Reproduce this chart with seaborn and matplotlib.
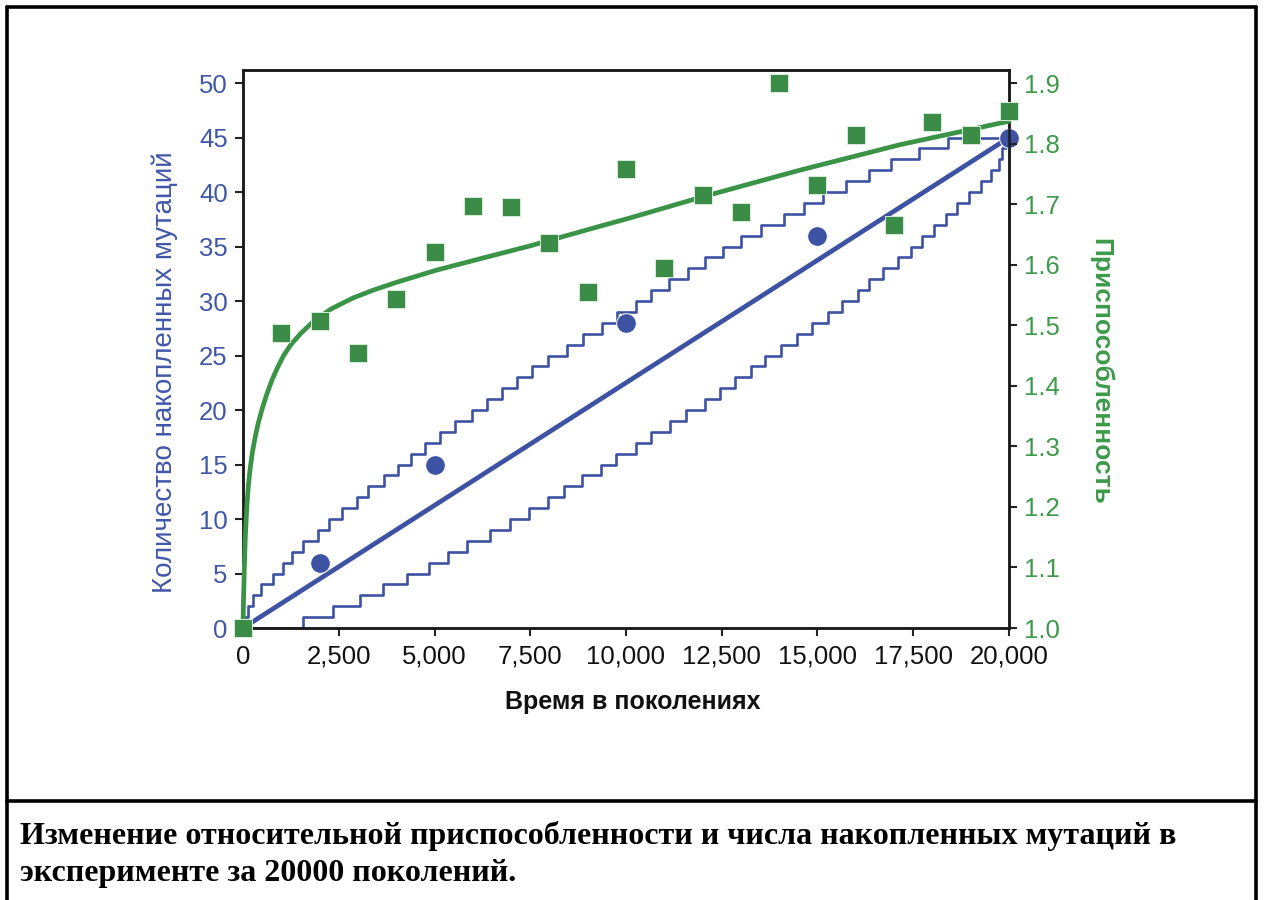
import numpy as np
import pandas as pd
import seaborn as sns
import matplotlib.pyplot as plt
from matplotlib import patheffects as pe
from matplotlib.lines import Line2D
from matplotlib.ticker import FixedLocator, FuncFormatter

# ---- data -------------------------------------------------------------
# relative fitness measured every 1000 generations
fitness_gen = [0, 1000, 2000, 3000, 4000, 5000, 6000, 7000, 8000, 9000, 10000,
               11000, 12000, 13000, 14000, 15000, 16000, 17000, 18000, 19000, 20000]
fitness_val = [1.0, 1.487, 1.507, 1.454, 1.543, 1.621, 1.697, 1.695, 1.636, 1.555, 1.758,
               1.594, 1.715, 1.687, 1.900, 1.732, 1.814, 1.665, 1.836, 1.814, 1.854]

# fitted fitness trajectory
fit_gen = [0, 15, 35, 60, 100, 140, 190, 250, 320, 400, 500, 620, 760, 900, 1060,
           1250, 1500, 1830, 2300, 2870, 3400, 4010, 5050, 6260, 7490, 9230, 10090,
           11990, 14530, 17140, 20000]
fit_val = [1.0, 1.05, 1.10, 1.15, 1.20, 1.235, 1.265, 1.292, 1.316, 1.339, 1.362,
           1.386, 1.410, 1.430, 1.450, 1.468, 1.486, 1.506, 1.527, 1.545, 1.558,
           1.571, 1.591, 1.611, 1.631, 1.662, 1.677, 1.712, 1.756, 1.798, 1.837]

# sequenced mutations in clones
mutation_gen = [2000, 5000, 10000, 15000, 20000]
mutation_count = [6, 15, 28, 36, 45]

# linear accumulation trend
trend_gen = [0, 20000]
trend_count = [0, 45]

# generation at which each successive mutation count is reached (bounds)
upper_gen = [0, 10, 130, 260, 470, 780, 1040, 1280, 1565, 1955, 2240, 2580, 2975, 3260,
             3680, 4040, 4380, 4745, 5140, 5530, 5970, 6360, 6755, 7145, 7540, 7955,
             8450, 8865, 9365, 9755, 10250, 10665, 11135, 11615, 12050, 12525, 13005,
             13530, 14135, 14655, 15150, 15745, 16350, 16920, 17640, 18420, 20000]
lower_gen = [0, 1575, 2355, 3050, 3660, 4270, 4860, 5355, 5850, 6440, 6965, 7465, 7960,
             8370, 8860, 9355, 9745, 10250, 10660, 11155, 11555, 12050, 12460, 12850,
             13265, 13640, 14050, 14455, 14855, 15265, 15640, 16045, 16350, 16700, 17110,
             17440, 17740, 18045, 18350, 18655, 18960, 19265, 19525, 19745, 19830, 19920,
             20000]
upper_count = list(range(0, 46)) + [45]
lower_count = list(range(0, 46)) + [45]

x_ticks = [0, 2500, 5000, 7500, 10000, 12500, 15000, 17500, 20000]
left_ticks = [0, 5, 10, 15, 20, 25, 30, 35, 40, 45, 50]
right_ticks = [1.0, 1.1, 1.2, 1.3, 1.4, 1.5, 1.6, 1.7, 1.8, 1.9]

# ---- style ------------------------------------------------------------
sns.set_theme(style="ticks")
plt.rcParams['font.family'] = ['Liberation Sans', 'DejaVu Sans']

BLUE = '#3d52a3'
BLUE_TXT = '#4157a8'
GREEN = '#3a9347'
GREEN_MK = '#3b8c47'
GREEN_TXT = '#3d9a4a'
TICK_SIZE = 18.5

fig = plt.figure(figsize=(12.65, 9.0), dpi=100)
ax = fig.add_axes([243 / 1265, 1 - 628 / 900, 766 / 1265, 558 / 900])
ax2 = ax.twinx()

LEFT_TOP = 51.2
ax.set_xlim(0, 20000)
ax.set_ylim(0, LEFT_TOP)
ax2.set_ylim(1.0, 1.0 + LEFT_TOP * 0.9 / 50)

halo = [pe.Stroke(linewidth=4.2, foreground='white'), pe.Normal()]

# mutation bounds (step functions)
sns.lineplot(x=upper_gen, y=upper_count, ax=ax, color=BLUE, linewidth=1.9,
             drawstyle='steps-post', path_effects=halo, sort=False, zorder=2)
sns.lineplot(x=lower_gen, y=lower_count, ax=ax, color=BLUE, linewidth=1.9,
             drawstyle='steps-post', path_effects=halo, sort=False, zorder=2)

# linear trend and observed mutation counts
sns.lineplot(x=trend_gen, y=trend_count, ax=ax, color=BLUE, linewidth=3.4,
             zorder=3)
sns.scatterplot(x=mutation_gen, y=mutation_count, ax=ax, color=BLUE, s=200,
                marker='o', edgecolor='white', linewidth=0.7, zorder=4, clip_on=False)

# fitness trajectory and measurements
sns.lineplot(x=fit_gen, y=fit_val, ax=ax2, color=GREEN, linewidth=3.4,
             zorder=3, clip_on=False)
sns.scatterplot(x=fitness_gen, y=fitness_val, ax=ax2, color=GREEN_MK, s=160,
                marker='s', edgecolor='#d9ecd9', linewidth=0.7, zorder=4, clip_on=False)

# ---- axes -------------------------------------------------------------
ax.xaxis.set_major_locator(FixedLocator(x_ticks))
ax.xaxis.set_major_formatter(FuncFormatter(lambda v, p: f"{int(v):,}"))
ax.yaxis.set_major_locator(FixedLocator(left_ticks))
ax2.yaxis.set_major_locator(FixedLocator(right_ticks))
ax2.yaxis.set_major_formatter(FuncFormatter(lambda v, p: f"{v:.1f}"))

ax.tick_params(axis='x', labelsize=TICK_SIZE, labelcolor='#111111', length=6,
               width=1.5, pad=6, color='#222222')
ax.tick_params(axis='y', labelsize=TICK_SIZE, labelcolor=BLUE_TXT, length=6,
               width=1.5, pad=5, color='#222222')
ax2.tick_params(axis='y', labelsize=TICK_SIZE, labelcolor=GREEN_TXT, length=6,
                width=1.5, pad=5, color='#222222')

for a in (ax, ax2):
    for sp in a.spines.values():
        sp.set_visible(True)
        sp.set_color('#1a1a1a')
        sp.set_linewidth(1.8)

ax.set_xlabel('Время в поколениях', fontsize=18, fontweight='bold', color='#111111')
ax.xaxis.set_label_coords(0.509, -0.133)
ax.xaxis.label.set_va('center')

ax.set_ylabel('Количество накопленных мутаций', fontsize=20, color=BLUE_TXT)
ax.yaxis.set_label_coords(-0.102, 0.459)
ax.yaxis.label.set_va('center')

ax2.set_ylabel('Приспособленность', fontsize=19, fontweight='bold',
               color=GREEN_TXT, rotation=270)
ax2.yaxis.set_label_coords(1.119, 0.459)
ax2.yaxis.label.set_va('center')

# ---- frame and caption ------------------------------------------------
W, H = 1265, 900
frame_kw = dict(color='black', linewidth=2.6, transform=fig.transFigure)
fig.add_artist(Line2D([7 / W, 7 / W], [0, 1 - 7 / H], **frame_kw))
fig.add_artist(Line2D([1256 / W, 1256 / W], [0, 1 - 7 / H], **frame_kw))
fig.add_artist(Line2D([7 / W, 1256 / W], [1 - 7 / H, 1 - 7 / H], **frame_kw))
fig.add_artist(Line2D([7 / W, 1256 / W], [1 - 801 / H, 1 - 801 / H], **frame_kw))

caption_lines = ['Изменение относительной приспособленности и числа накопленных мутаций в',
                 'эксперименте за 20000 поколений.']
for i, line in enumerate(caption_lines):
    fig.text(20 / W, 1 - (836 + 38 * i) / H, line, family='Liberation Serif',
             fontweight='bold', fontsize=23.0, va='center', ha='left', color='black')

fig.savefig('out.png', dpi=100)
